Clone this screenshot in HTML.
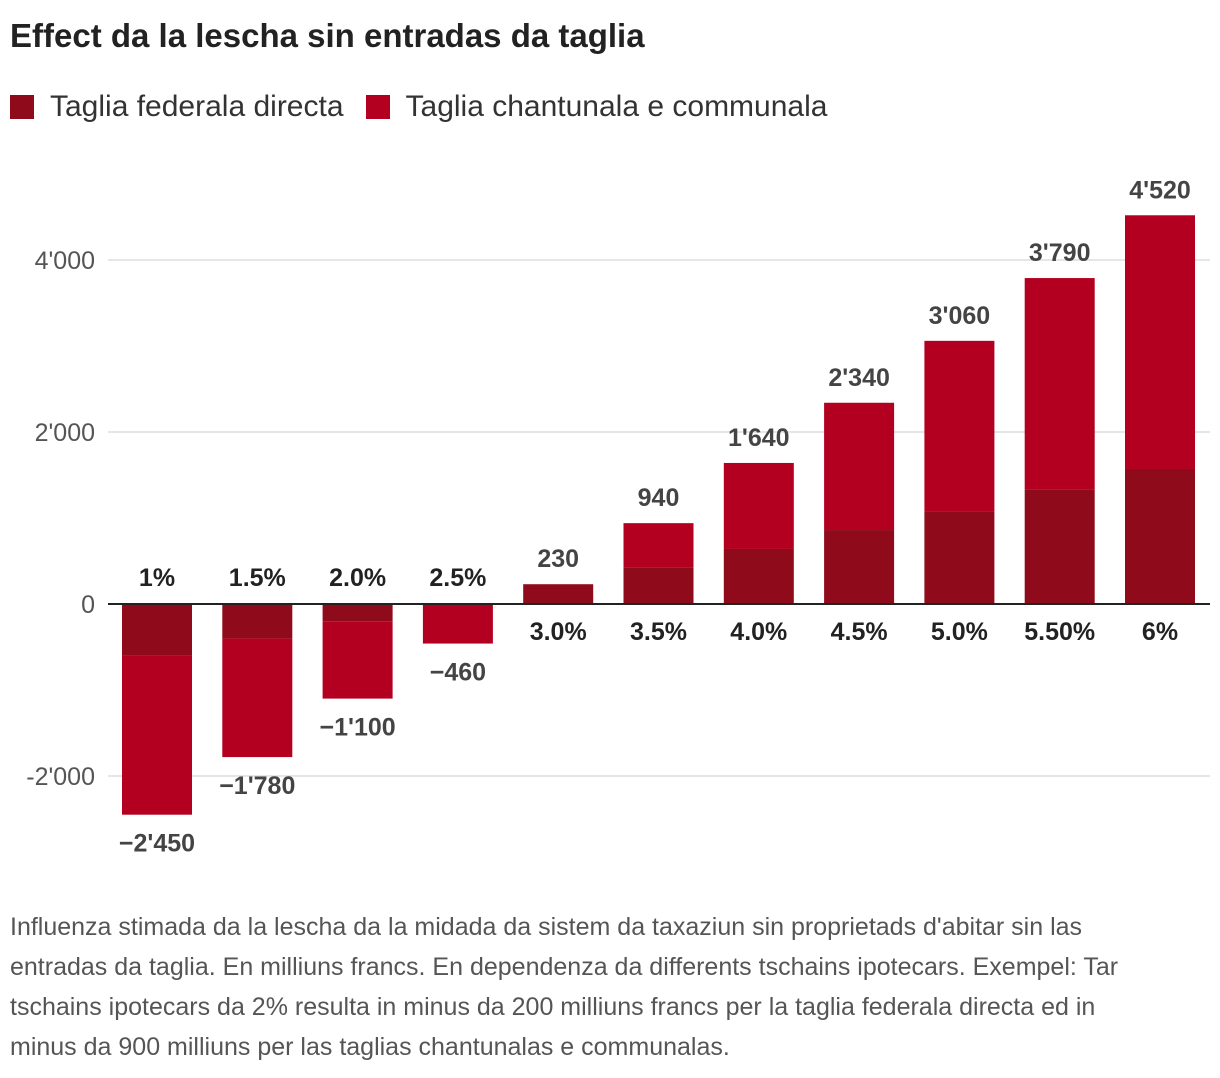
<!DOCTYPE html>
<html><head><meta charset="utf-8"><style>
body{margin:0;background:#fff;font-family:"Liberation Sans",sans-serif;}
#wrap{position:relative;width:1220px;height:1078px;overflow:hidden;}
.title{position:absolute;left:10px;top:17px;font-size:33px;font-weight:bold;color:#222;}
.legend{position:absolute;left:10px;top:90px;font-size:30px;color:#333;display:flex;align-items:center;}
.sw{width:24px;height:24px;display:inline-block;margin-right:16px;}
.note{position:absolute;left:10px;top:907px;width:1150px;font-size:25px;line-height:40px;color:#555;}
</style></head><body><div id="wrap">
<div class="title">Effect da la lescha sin entradas da taglia</div>
<div class="legend">
<span class="sw" style="background:#8f0a1a"></span><span style="margin-right:22px">Taglia federala directa</span>
<span class="sw" style="background:#b30021"></span><span>Taglia chantunala e communala</span>
</div>
<svg id="chart" width="1220" height="1078" style="position:absolute;left:0;top:0"></svg>
<div class="note">Influenza stimada da la lescha da la midada da sistem da taxaziun sin proprietads d'abitar sin las entradas da taglia. En milliuns francs. En dependenza da differents tschains ipotecars. Exempel: Tar tschains ipotecars da 2% resulta in minus da 200 milliuns francs per la taglia federala directa ed in minus da 900 milliuns per las taglias chantunalas e communalas.</div>
</div>
<script>
const categories=["1%","1.5%","2.0%","2.5%","3.0%","3.5%","4.0%","4.5%","5.0%","5.50%","6%"];
const federal=[-600,-400,-200,0,230,420,640,860,1080,1330,1570];
const totals=[-2450,-1780,-1100,-460,230,940,1640,2340,3060,3790,4520];
const totalLabels=["−2'450","−1'780","−1'100","−460","230","940","1'640","2'340","3'060","3'790","4'520"];
const yTicks=[-2000,0,2000,4000];
const yTickLabels=["-2'000","0","2'000","4'000"];
const NS="http://www.w3.org/2000/svg";
const svg=document.getElementById('chart');
const y=v=>604-v*0.086;
const x=i=>157+i*100.3;
const bw=70;
function mk(t,a){const e=document.createElementNS(NS,t);for(const k in a)e.setAttribute(k,a[k]);svg.appendChild(e);return e;}
yTicks.forEach((t,i)=>{
 if(t!==0){const g=mk('line',{x1:108,x2:1210,y1:y(t),y2:y(t),stroke:'#ddd','stroke-width':1.5});
 
 }
 const tx=mk('text',{x:95,y:y(t)+9,'text-anchor':'end','font-size':25,fill:'#555','font-family':'Liberation Sans'});
 tx.textContent=yTickLabels[i];
 
 
});
categories.forEach((c,i)=>{
 const f=federal[i],tot=totals[i],cant=tot-f;
 const fy=Math.min(y(0),y(f)),fh=Math.abs(y(f)-y(0));
 const b1=mk('rect',{x:x(i)-bw/2,y:fy,width:bw,height:fh,fill:'#8f0a1a'});
 
 
 const cy=Math.min(y(f),y(tot)),ch=Math.abs(y(tot)-y(f));
 const b2=mk('rect',{x:x(i)-bw/2,y:cy,width:bw,height:ch,fill:'#b30021'});
 
 
 const neg=tot<0;
 const vl=mk('text',{x:x(i),y:neg?y(tot)+37:y(tot)-17,'text-anchor':'middle','font-size':25,'font-weight':'bold',fill:'#444','font-family':'Liberation Sans'});
 vl.textContent=totalLabels[i];
 
 
 const cl=mk('text',{x:x(i),y:neg?y(0)-18:y(0)+36,'text-anchor':'middle','font-size':25,'font-weight':'bold',fill:'#222','font-family':'Liberation Sans'});
 cl.textContent=c;
 
 
});
const z=mk('line',{x1:108,x2:1210,y1:y(0),y2:y(0),stroke:'#222','stroke-width':2});


</script></body></html>
